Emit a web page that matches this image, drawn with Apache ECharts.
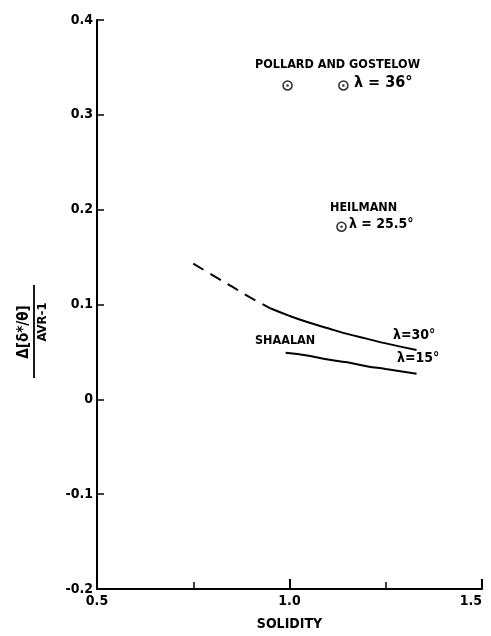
<!DOCTYPE html>
<html>
<head>
<meta charset="utf-8">
<script src="https://cdn.jsdelivr.net/npm/echarts@6/dist/echarts.min.js"></script>
<style>
  html, body { margin: 0; padding: 0; background: #fff; }
  #chart { width: 491px; height: 636px; }
</style>
</head>
<body>
<div id="chart"></div>
<script>
// Shaalan curves (solidity, value)
var dashedPart = [[0.75, 0.143], [0.80, 0.131], [0.85, 0.119], [0.90, 0.107], [0.95, 0.096]];
var lambda30 = [[0.95, 0.096], [1.00, 0.088], [1.05, 0.081], [1.10, 0.075], [1.15, 0.069], [1.20, 0.064], [1.25, 0.059], [1.33, 0.052]];
var lambda15 = [[0.99, 0.049], [1.05, 0.046], [1.10, 0.042], [1.15, 0.039], [1.20, 0.035], [1.25, 0.032], [1.33, 0.027]];
// single points
var pollard = [[0.995, 0.331], [1.14, 0.331]];
var heilmann = [[1.135, 0.182]];

var xTickLabels = { '0.5': '0.5', '1': '1.0', '1.5': '1.5' };

var font = '"DejaVu Sans Condensed", "DejaVu Sans"';
var lab = 'bold 12.5px ' + font;
var myChart = echarts.init(document.getElementById('chart'));

var points = pollard.concat(heilmann);

var option = {
  animation: false,
  backgroundColor: '#fff',
  grid: { left: 97, right: 9, top: 20, bottom: 47, outerBoundsMode: 'none' },
  xAxis: {
    type: 'value',
    min: 0.5, max: 1.5, interval: 0.5,
    name: 'SOLIDITY',
    nameLocation: 'middle',
    nameGap: 28,
    nameTextStyle: { color: '#000', fontFamily: font, fontWeight: 'bold', fontSize: 14 },
    axisLine: { onZero: false, lineStyle: { color: '#000', width: 2 } },
    axisTick: { inside: true, length: 10, lineStyle: { color: '#000', width: 2 } },
    minorTick: { show: true, splitNumber: 2, length: 7, lineStyle: { color: '#000', width: 1.5 } },
    splitLine: { show: false },
    axisLabel: {
      color: '#000', fontFamily: font, fontWeight: 'bold', fontSize: 14, margin: 5,
      alignMaxLabel: 'right',
      formatter: function (v) { return xTickLabels[String(v)] || ''; }
    }
  },
  yAxis: {
    type: 'value',
    min: -0.2, max: 0.4, interval: 0.1,
    axisLine: { lineStyle: { color: '#000', width: 2 } },
    axisTick: { inside: true, length: 7, lineStyle: { color: '#000', width: 1.5 } },
    splitLine: { show: false },
    axisLabel: {
      color: '#000', fontFamily: font, fontWeight: 'bold', fontSize: 14, margin: 4,
      formatter: function (v) {
        var r = Math.round(v * 10) / 10;
        return r === 0 ? '0' : r.toFixed(1);
      }
    }
  },
  series: [
    {
      type: 'line', data: dashedPart, smooth: true, symbol: 'none',
      lineStyle: { color: '#000', width: 2, type: [12, 8] }
    },
    {
      type: 'line', data: lambda30, smooth: true, symbol: 'none',
      lineStyle: { color: '#000', width: 2 }
    },
    {
      type: 'line', data: lambda15, smooth: true, symbol: 'none',
      lineStyle: { color: '#000', width: 2 }
    },
    {
      type: 'scatter', data: points, symbol: 'circle', symbolSize: 9,
      itemStyle: { color: '#fff', borderColor: '#000', borderWidth: 1.6 }, z: 3
    },
    {
      type: 'scatter', data: points, symbol: 'circle', symbolSize: 2.5,
      itemStyle: { color: '#000' }, z: 4
    }
  ],
  graphic: [
    { type: 'text', left: 255, top: 58, style: { text: 'POLLARD AND GOSTELOW', font: lab, fill: '#000' } },
    { type: 'text', left: 354, top: 75, style: { text: 'λ = 36°', font: 'bold 16px ' + font, fill: '#000' } },
    { type: 'text', left: 330, top: 201, style: { text: 'HEILMANN', font: lab, fill: '#000' } },
    { type: 'text', left: 349, top: 217, style: { text: 'λ = 25.5°', font: 'bold 14px ' + font, fill: '#000' } },
    { type: 'text', left: 255, top: 334, style: { text: 'SHAALAN', font: lab, fill: '#000' } },
    { type: 'text', left: 393, top: 328, style: { text: 'λ=30°', font: 'bold 14px ' + font, fill: '#000' } },
    { type: 'text', left: 397, top: 351, style: { text: 'λ=15°', font: 'bold 14px ' + font, fill: '#000' } },
    {
      type: 'text', x: 32, y: 332, rotation: Math.PI / 2,
      style: { text: 'Δ[δ*/θ]', font: 'bold 15px ' + font, fill: '#000', align: 'center', verticalAlign: 'bottom' }
    },
    {
      type: 'line', shape: { x1: 34, y1: 285, x2: 34, y2: 378 },
      style: { stroke: '#000', lineWidth: 1.8 }
    },
    {
      type: 'text', x: 36, y: 322, rotation: Math.PI / 2,
      style: { text: 'AVR-1', font: 'bold 13px ' + font, fill: '#000', align: 'center', verticalAlign: 'top' }
    }
  ]
};

myChart.setOption(option);
</script>
</body>
</html>
